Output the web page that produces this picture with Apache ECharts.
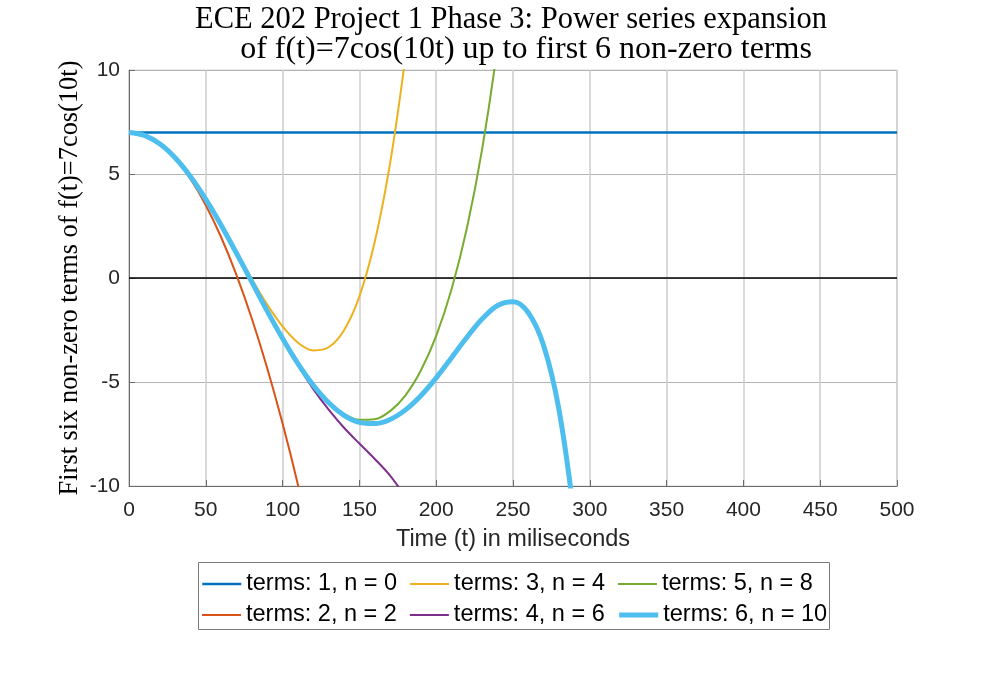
<!DOCTYPE html>
<html lang="en">
<head>
    <meta charset="UTF-8">
    <title>ECharts</title>
    <script src="https://cdn.jsdelivr.net/npm/echarts@6/dist/echarts.min.js"></script>
    <style>
        * {
            margin: 0;
            padding: 0
        }

        html, body {
            width: 100%;
            height: 100%;
            background: #fff;
        }
    </style>
</head>
<body>
<div id="main" style="width: 993px;height:696px;"></div>
<script type="text/javascript">
    // time axis in ms, one sample every 10 ms
    var ms = [0, 10, 20, 30, 40, 50, 60, 70, 80, 90, 100, 110, 120, 130, 140, 150,
        160, 170, 180, 190, 200, 210, 220, 230, 240, 250, 260, 270, 280, 290];

    // values for each partial sum
    var terms1X = [0, 500];
    var terms1 = [7, 7];
    var terms2 = [7, 6.86, 6.44, 5.74, 4.76, 3.50, 1.96, 0.14, -1.96, -4.34, -7.00, -9.94, -13.16];
    var terms3 = [7, 6.86, 6.45, 5.78, 4.88, 3.79, 2.56, 1.26, -0.05, -1.28, -2.33, -3.11, -3.48,
        -3.33, -2.51, -0.88, 1.74, 5.52, 10.63];
    var terms4 = [7, 6.86, 6.45, 5.78, 4.88, 3.78, 2.54, 1.19, -0.21, -1.61, -2.96, -4.21, -5.34,
        -6.33, -7.20, -7.96, -8.70, -9.50, -10.53];
    var terms5 = [7, 6.86, 6.45, 5.78, 4.88, 3.78, 2.54, 1.19, -0.20, -1.59, -2.91, -4.11, -5.15,
        -5.97, -6.54, -6.82, -6.79, -6.40, -5.64, -4.45, -2.78, -0.54, 2.40, 6.23, 11.20, 17.70];
    var terms6 = [7, 6.86, 6.45, 5.78, 4.88, 3.78, 2.54, 1.19, -0.20, -1.59, -2.91, -4.12, -5.16,
        -6.00, -6.60, -6.94, -7.00, -6.80, -6.34, -5.66, -4.80, -3.83, -2.85, -1.96, -1.32, -1.14,
        -1.67, -3.26, -6.36, -11.56];

    var names = ['terms: 1, n = 0', 'terms: 2, n = 2', 'terms: 3, n = 4',
        'terms: 4, n = 6', 'terms: 5, n = 8', 'terms: 6, n = 10'];
    var colors = ['#0072BD', '#D95319', '#EDB120', '#7E2F8E', '#77AC30', '#4DBEEE'];
    var widths = [2.5, 2, 2, 2, 2, 5];

    var xTicks = [0, 50, 100, 150, 200, 250, 300, 350, 400, 450, 500];
    var yTicks = [-10, -5, 0, 5, 10];

    function pairs(xs, ys) {
        var out = [];
        for (var i = 0; i < ys.length; i++) {
            out.push([xs[i], ys[i]]);
        }
        return out;
    }

    var allData = [pairs(terms1X, terms1), pairs(ms, terms2), pairs(ms, terms3),
        pairs(ms, terms4), pairs(ms, terms5), pairs(ms, terms6)];

    var series = [{
        name: 'zero',
        type: 'line',
        data: [[0, 0], [500, 0]],
        symbol: 'none',
        silent: true,
        lineStyle: {color: '#000', width: 1.5}
    }];
    for (var k = 0; k < allData.length; k++) {
        series.push({
            name: names[k],
            type: 'line',
            data: allData[k],
            symbol: 'none',
            smooth: 0.35,
            clip: true,
            color: colors[k],
            lineStyle: {color: colors[k], width: widths[k]}
        });
    }

    // legend entries: plain line sample, no marker
    function legendItems(idx) {
        return idx.map(function (i) {
            return {
                name: names[i],
                itemStyle: {opacity: 0},
                lineStyle: {color: colors[i], width: widths[i]}
            };
        });
    }

    var legendText = {fontFamily: 'Liberation Sans', fontSize: 23.5, color: '#000', lineHeight: 26};

    var myChart = echarts.init(document.getElementById('main'));
    var option = {
        animation: false,
        title: [{
            text: 'ECE 202 Project 1 Phase 3: Power series expansion',
            left: 506,
            top: -1,
            textAlign: 'center',
            textStyle: {fontFamily: 'Liberation Serif', fontWeight: 'normal', fontSize: 30.5, color: '#000'}
        }, {
            text: 'of f(t)=7cos(10t) up to first 6 non-zero terms',
            left: 521,
            top: 29,
            textAlign: 'center',
            textStyle: {fontFamily: 'Liberation Serif', fontWeight: 'normal', fontSize: 32, color: '#000'}
        }],
        grid: {
            left: 129, top: 70, width: 768, height: 416,
            show: true, borderColor: '#d4d4d4', borderWidth: 1
        },
        legend: [{
            data: legendItems([0, 2, 4]),
            left: 201, top: 571, padding: 0,
            itemWidth: 39, itemHeight: 26, itemGap: 12,
            textStyle: legendText
        }, {
            data: legendItems([1, 3, 5]),
            left: 201, top: 602, padding: 0,
            itemWidth: 39, itemHeight: 26, itemGap: 12,
            textStyle: legendText
        }],
        graphic: [{
            type: 'rect',
            shape: {x: 198.5, y: 562.5, width: 631, height: 67},
            style: {fill: 'transparent', stroke: '#7a7a7a', lineWidth: 1},
            silent: true
        }],
        xAxis: {
            type: 'value',
            min: xTicks[0], max: xTicks[xTicks.length - 1], interval: 50,
            name: 'Time (t) in miliseconds',
            nameLocation: 'middle',
            nameGap: 42,
            nameTextStyle: {fontFamily: 'Liberation Sans', fontSize: 23.5, color: '#262626'},
            axisLine: {show: true, onZero: false, lineStyle: {color: '#6b6b6b', width: 1}},
            axisTick: {show: true, inside: true, length: 6, lineStyle: {color: '#6b6b6b'}},
            axisLabel: {fontFamily: 'Liberation Sans', fontSize: 21, color: '#262626', margin: 14},
            splitLine: {show: true, lineStyle: {color: '#cccccc', width: 1.5}}
        },
        yAxis: {
            type: 'value',
            min: yTicks[0], max: yTicks[yTicks.length - 1], interval: 5,
            name: 'First six non-zero terms of f(t)=7cos(10t)',
            nameLocation: 'middle',
            nameGap: 46,
            nameMoveOverlap: false,
            nameTextStyle: {fontFamily: 'Liberation Serif', fontSize: 26.4, color: '#000'},
            axisLine: {show: true, onZero: false, lineStyle: {color: '#6b6b6b', width: 1}},
            axisTick: {show: true, inside: true, length: 6, lineStyle: {color: '#6b6b6b'}},
            axisLabel: {fontFamily: 'Liberation Sans', fontSize: 21, color: '#262626', margin: 9},
            splitLine: {show: true, lineStyle: {color: '#b4b4b4', width: 1}}
        },
        series: series
    };
    myChart.setOption(option);
</script>
</body>
</html>
